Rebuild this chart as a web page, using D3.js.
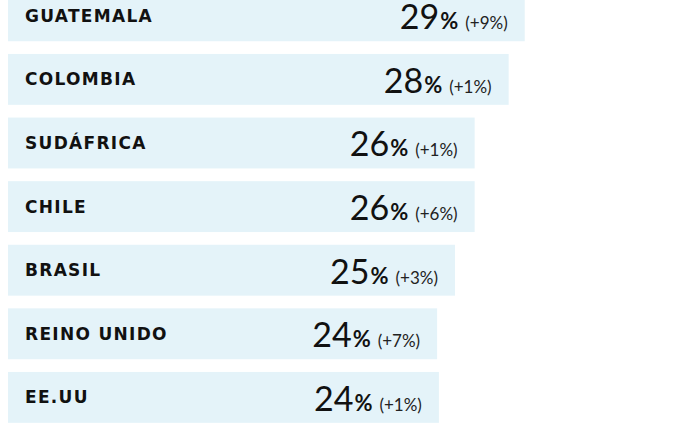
<!DOCTYPE html>
<html>
<head>
<meta charset="utf-8">
<script src="https://cdn.jsdelivr.net/npm/d3@7"></script>
<style>
  html, body { margin: 0; padding: 0; background: #fff; }
  .chart { width: 692px; height: 433px; overflow: hidden; }
  .chart__label { font-family: "DejaVu Sans", Lato, sans-serif; font-weight: 700; font-size: 17px; fill: #111; letter-spacing: 1.3px; }
  .chart__value { font-family: Lato, "Open Sans", sans-serif; fill: #111; }
</style>
</head>
<body>
<div class="chart"></div>
<script>
(function() {
    'use strict';

    // DATA *************************************************************
    var countries = ['GUATEMALA', 'COLOMBIA', 'SUDÁFRICA', 'CHILE', 'BRASIL', 'REINO UNIDO', 'EE.UU'];
    var shares    = [28.9, 28.0, 26.1, 26.1, 25.0, 24.0, 24.1];
    var changes   = ['+9%', '+1%', '+1%', '+6%', '+3%', '+7%', '+1%'];

    var data = countries.map(function(c, i) {
        return { country: c, value: shares[i], change: changes[i] };
    });

    // MARGIN CONVENTION ************************************************
    var margin = {top: -16, right: 10, bottom: 4, left: 8};

    var svg = d3.select('.chart').append('svg')
                    .attr('width', 692)
                    .attr('height', 433)
                .append('g')
                    .attr('transform', 'translate(' + margin.left + ',' + margin.top + ')');

    // SCALES
    var xScale = d3.scaleLinear()
                    .domain([0, 30])
                    .range([0, 536.4]);

    var yScale = d3.scaleBand()
                    .domain(countries)
                    .range([0, 445.2])
                    .paddingInner(0.2)
                    .paddingOuter(0.1);

    var fmt = d3.format('.0f');

    var rows = svg.selectAll('.chart__row')
                    .data(data)
                    .enter()
                    .append('g')
                    .attr('class', 'chart__row')
                    .attr('transform', function(d) { return 'translate(0,' + yScale(d.country) + ')'; });

    // background bars
    rows.append('rect')
        .attr('x', 0)
        .attr('width', function(d) { return xScale(d.value); })
        .attr('height', yScale.bandwidth())
        .attr('fill', '#e4f3f9');

    // country labels
    rows.append('text')
        .attr('class', 'chart__label')
        .attr('x', 17)
        .attr('y', yScale.bandwidth() / 2 + 6)
        .text(function(d) { return d.country; });

    // values: big number, percent sign, change in brackets
    var val = rows.append('text')
        .attr('class', 'chart__value')
        .attr('text-anchor', 'end')
        .attr('x', function(d) { return xScale(d.value) - 17; })
        .attr('y', yScale.bandwidth() / 2 + 13.5);

    val.append('tspan')
        .attr('font-size', 34)
        .attr('font-weight', 400)
        .text(function(d) { return fmt(d.value); });

    val.append('tspan')
        .attr('font-size', 22)
        .attr('font-weight', 700)
        .attr('dx', 1)
        .text('%');

    val.append('tspan')
        .attr('font-size', 17)
        .attr('font-weight', 400)
        .attr('fill', '#222')
        .attr('dx', 7)
        .text(function(d) { return '(' + d.change + ')'; });

}());
</script>
</body>
</html>
